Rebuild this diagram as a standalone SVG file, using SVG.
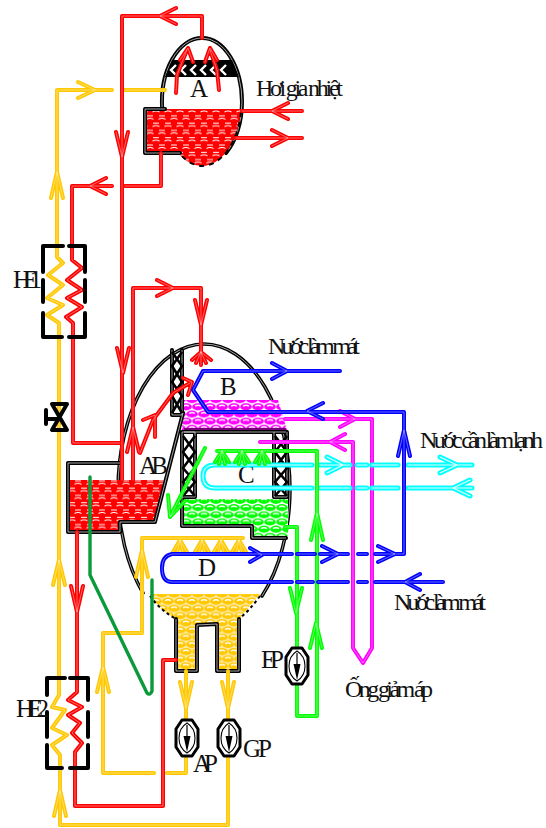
<svg xmlns="http://www.w3.org/2000/svg" width="546" height="828" viewBox="0 0 546 828">
<style>
text{font-family:"Liberation Serif","Times New Roman",serif;font-size:25px;fill:#111}
.lbl{font-size:24px}
.p{fill:none;stroke-width:4;stroke-linecap:round;stroke-linejoin:round}
.in{fill:none;stroke:#fff;stroke-width:.8;opacity:.5;stroke-linecap:round;stroke-linejoin:round}
.w{fill:none;stroke:#000;stroke-width:4;stroke-linecap:round;stroke-linejoin:round}
.wi{fill:none;stroke:#fff;stroke-width:.8;opacity:.8}
.h{fill:none;stroke:#000;stroke-width:2.6;stroke-linejoin:round}
</style>
<defs>
<pattern id="lr" width="12" height="14.6" patternUnits="userSpaceOnUse"><rect width="12" height="14.6" fill="#ff0000"/><path d="M2.500 2.400Q6 .6 9.500 2.400M-3.500 9.700Q0 7.900 3.500 9.700M8.500 9.700Q12 7.900 15.500 9.700M0 6.300H3M9 6.300H12M3 13.600H9" stroke="#fff" stroke-width="1" fill="none"/></pattern>
<g id="bub"><ellipse cx="6" cy="3.600" rx="5.800" ry="3.500"/><ellipse cx="0" cy="10.800" rx="5.800" ry="3.500"/><ellipse cx="12" cy="10.800" rx="5.800" ry="3.500"/></g>
<g id="cres" fill="none" stroke="#fff" stroke-width="1.500"><path d="M3 3Q6 1.200 9 3M-3 10.200Q0 8.400 3 10.200M9 10.200Q12 8.400 15 10.200"/></g>
<pattern id="lm" width="12" height="14.400" patternUnits="userSpaceOnUse"><rect width="12" height="14.400" fill="#fff"/><use href="#bub" fill="#ff00ff"/><use href="#cres"/></pattern>
<pattern id="lg" width="12" height="14.400" patternUnits="userSpaceOnUse"><rect width="12" height="14.400" fill="#fff"/><use href="#bub" fill="#00ff00"/><use href="#cres"/></pattern>
<pattern id="ly" width="12" height="14.400" patternUnits="userSpaceOnUse"><rect width="12" height="14.400" fill="#ffe9a0"/><use href="#bub" fill="#ffc800"/><use href="#cres"/></pattern>
<path id="r" d="M202 38V16H122V480M176 8L160 16L176 24M116 132L122 157L128 132M161 153V186H125M112 186H72V260L82 268L67 280L82 290L67 298L82 307L66 317L73 323V443H120M106 178L90 186L106 194M242 111H302M288 103L272 111L288 119M236 138H302M272 130L288 138L272 146M117 348L123 373L129 348M133 480V288H201V352M157 280L173 288L157 296M195 300L201 325L207 300M127 452L133 427L139 452M140 453L153 420L173 393L190 383M143 420L155 415L155 437M183 378L192 382L188 395M201 352L192 360M201 352L196 363M201 352V365M201 352L206 363M201 352L211 360M77 532V692L68 700L82 707L68 715L80 723L72 733L82 743L75 752V806H163V660H176M71 586L77 612L83 586M176 93L177 75L187 50M180 60L188 48L193 62M219 90L217 70L210 50M205 62L210 48L217 60"/>
<path id="y" d="M165 90H124M112 90H57V257L63 263L48 275L63 285L47 298L63 305L47 315L59 323V695L52 707L65 710L52 728L67 735L52 745L60 755V825H228V757M51 198L57 172L63 198M78 82L95 90L78 98M53 585L59 560L65 585M54 816L60 790L66 816M243 538H142V633H103V773H154M136 577L142 550L148 577M97 692L103 667L109 692M167 773H186V757M186 671V719M228 671V719M180 682L186 708L192 682M222 682L228 708L234 682M180 540L173 552M180 540L177 553M180 540L183 553M180 540L187 552M202 540L195 552M202 540L199 553M202 540L205 553M202 540L209 552M221 540L214 552M221 540L218 553M221 540L224 553M221 540L228 552M239 540L232 552M239 540L236 553M239 540L242 553M239 540L246 552"/>
<path id="b" d="M340 371H203L193 390L208 412H404V554H375M272 363L287 371L272 379M323 403L307 411L323 419M398 456L404 430L410 456M367 554H358M348 554H320M315 554H297M292 554H172Q162 556 162 568Q162 582 172 582H292M250 548L262 555L250 562M322 546L338 554L322 562M378 546L395 554L378 562M297 582H313M318 582H348M358 582H367M375 582H443M420 574L405 582L420 590"/>
<path id="m" d="M285 419H372V648L363 663L353 648V442H260M340 411L355 419L340 427M345 434L330 442L345 450"/>
<path id="g" d="M217 451H317V716H297V527H285M222 451L215 462M222 451L219 464M222 451L225 464M222 451L229 462M242 451L235 462M242 451L239 464M242 451L245 464M242 451L249 462M262 451L255 462M262 451L259 464M262 451L265 464M262 451L269 462M290 588L296 613L302 588M311 540L317 513L323 540M310 648L316 623L322 648M205 448L170 517M168 495L170 517L185 501"/>
<path id="c" d="M312 465H215Q203 465 203 476Q203 488 215 488H312M320 465H350M357 465H367M372 465H398M408 465H472M320 488H350M357 488H367M372 488H398M408 488H472M327 457L343 465L327 473M440 457L457 465L440 473M470 480L453 488L470 496"/>
<path id="d" d="M90 477V575L147 693Q150 696 152 691V580"/>
<g id="pump"><path d="M-5-18H5L11-9V9L5 18H-5L-11 9V-9Z" fill="#fff" stroke="#000" stroke-width="3" stroke-linejoin="round"/><path fill="none" stroke="#000" stroke-width="1.100" d="M0-15Q8-10 8 0Q8 10 0 15Q-8 10-8 0Q-8-10 0-15Z"/><path d="M0-13V0" stroke="#000" stroke-width="1.200"/><path d="M-3.500-2L0 14L3.500-2Z" fill="#000"/></g>
<path id="wallA" d="M165 109H145V153H180"/>
<path id="ellA" d="M162.200 109A40 64 0 0 1 202 38A40 64 0 0 1 242 102A40 64 0 0 1 226 153"/>
<path id="ellB" d="M143 593A86 146 0 0 1 118 490A86 146 0 0 1 204 344A86 146 0 0 1 290 490A86 146 0 0 1 262 596"/>
<path id="wallAB" d="M122 463H68V532H120V522H155L183 413M172 350V415H182V350M184 432H286M182 432V526H252V538H286M182 432H195M195 432V497H182M274 432V497H287V432M176 619V671H197V625L217 624V671H239V619"/>
</defs>

<g id="vessel-A">
<ellipse cx="202" cy="102" rx="40" ry="64" fill="#fff"/>
<use href="#ellA" class="w"/><use href="#ellA" class="wi"/>
<path d="M147 111H165V109H241A40 64 0 0 1 202 166A40 64 0 0 1 178 153H147Z" fill="url(#lr)"/>
<path d="M241 112A40 64 0 0 1 202 166A40 64 0 0 1 180 154" fill="none" stroke="#000" stroke-width="2" stroke-dasharray="5 5"/>
<use href="#wallA" class="w"/><use href="#wallA" class="wi"/>
<path d="M172 60H232L239 77H165Z" fill="#000"/>
<path d="M176 65L171 70L176 75M186 65L181 70L186 75M196 65L191 70L196 75M206 65L201 70L206 75M216 65L211 70L216 75M226 65L221 70L226 75" fill="none" stroke="#fff" stroke-width="2.400"/>
<text x="190" y="97">A</text>
</g>

<g id="vessel-AB">
<path d="M204 344A86 146 0 0 1 290 490A86 146 0 0 1 262 596H146A86 146 0 0 1 118 490A86 146 0 0 1 204 344Z" fill="#fff"/>
<use href="#ellB" class="w" style="stroke-width:3.500"/><use href="#ellB" class="wi"/>
<path d="M70 480H164L154 521H119V530H70Z" fill="url(#lr)"/>
<path d="M183 400H278L287 430H182Z" fill="url(#lm)"/>
<path d="M184 499H288V536H254V525H184Z" fill="url(#lg)"/>
<path d="M150 594H260L239 619V670H218V624H196V670H177V619Q160 612 150 594Z" fill="url(#ly)"/>
<path d="M150 596Q160 610 176 619M260 596Q250 610 239 619" fill="none" stroke="#000" stroke-width="2" stroke-dasharray="3 3"/>
<path d="M184 429H286" stroke="#7a007a" stroke-width="2"/>
<use href="#wallAB" class="w"/><use href="#wallAB" class="wi"/>
<path class="h" d="M172 352L182 366L172 382L182 396L172 413M182 352L172 366L182 382L172 396L182 413"/>
<path class="h" d="M183 436L195 452L183 468L195 482L183 496M195 436L183 452L195 468L183 482L195 496"/>
<path class="h" d="M275 436L287 452L275 468L287 482L275 496M287 436L275 452L287 468L275 482L287 496"/>
<text x="139" y="474" textLength="29" lengthAdjust="spacing">AB</text>
<text x="220" y="395">B</text>
<text x="238" y="483">C</text>
<text x="198" y="576">D</text>
</g>

<g id="connectors">
<use href="#y" class="p" stroke="#ffc800"/><use href="#y" class="in"/>
<use href="#r" class="p" stroke="#ff0000"/><use href="#r" class="in"/>
<use href="#d" class="p" stroke="#0a9a3a" style="stroke-width:3.400"/>
<use href="#m" class="p" stroke="#ff00ff"/><use href="#m" class="in"/>
<use href="#c" class="p" stroke="#00ffff" style="stroke-width:5"/><use href="#c" class="in" style="stroke-width:1.200;opacity:.9"/>
<use href="#g" class="p" stroke="#00ff00"/><use href="#g" class="in"/>
<use href="#b" class="p" stroke="#0000ff"/><use href="#b" class="in"/>
</g>

<g id="HE1"><path class="w" d="M43 272V246H63M69 246H85V272M43 280V302M85 280V302M43 313V337H62M69 337H85V313"/>
<text x="13" y="288" textLength="29" lengthAdjust="spacing">HE1</text></g>
<g id="HE2"><path class="w" d="M47 695V678H65M70 678H88V700M47 712V737M88 712V737M47 745V768H62M70 768H88V745"/>
<text x="16" y="717" textLength="33" lengthAdjust="spacing">HE2</text></g>
<g id="valve"><path class="w" d="M52 404H67L52 430H67Z"/><path class="w" d="M47 419H58M46 410V424"/></g>
<g id="AP"><use href="#pump" x="187" y="738"/><text x="193" y="772" textLength="25" lengthAdjust="spacing">AP</text></g>
<g id="GP"><use href="#pump" x="229" y="738"/><text x="243" y="757" textLength="29" lengthAdjust="spacing">GP</text></g>
<g id="EP"><use href="#pump" x="297" y="666"/><text x="261" y="668" textLength="23" lengthAdjust="spacing">EP</text></g>

<g id="labels">
<text class="lbl" x="256" y="96" textLength="87" lengthAdjust="spacing">Hơi gia nhiệt</text>
<text class="lbl" x="268" y="354" textLength="92" lengthAdjust="spacing">Nước làm mát</text>
<text class="lbl" x="420" y="448" textLength="123" lengthAdjust="spacing">Nước cần làm lạnh</text>
<text class="lbl" x="394" y="610" textLength="92" lengthAdjust="spacing">Nước làm mát</text>
<text class="lbl" x="345" y="697" textLength="88" lengthAdjust="spacing">Ống giảm áp</text>
</g>
</svg>
